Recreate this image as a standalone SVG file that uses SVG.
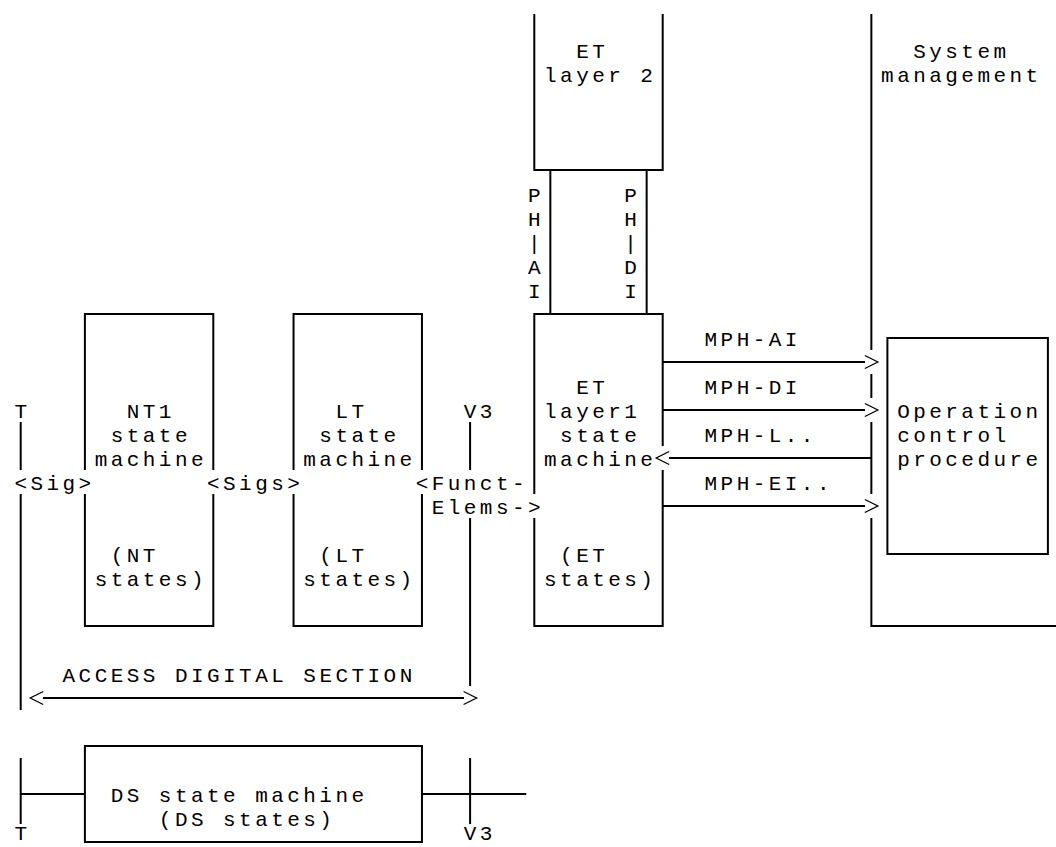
<svg xmlns="http://www.w3.org/2000/svg" width="1056" height="847" viewBox="0 0 1056 847">
<style>
  .ln{fill:none;stroke:#000;stroke-width:2;stroke-linecap:butt}
  .ah{fill:none;stroke:#000;stroke-width:1.3;stroke-linejoin:miter}
  text{font-family:"Liberation Mono","DejaVu Sans Mono",monospace;font-size:21px;letter-spacing:3.45px;fill:#000}
</style>
<rect width="1056" height="847" fill="#fff"/>

<g id="et-layer2">
  <path class="ln" d="M534.3,14 V170 H662.7 V14"/>
  <text x="576.15" y="57.5">ET</text>
  <text x="544.05" y="81.5">layer 2</text>
</g>

<g id="system-management">
  <path class="ln" d="M871.35,14 V350 M871.35,374 V398 M871.35,422 V494 M871.35,518 V626 H1056"/>
  <text x="913.2" y="57.5">System</text>
  <text x="881.1" y="81.5">management</text>
</g>

<g id="nt1">
  <path class="ln" d="M84.9,470 V314 H213.3 V470 M213.3,494 V626 H84.9 V494"/>
  <text x="126.75" y="417.5">NT1</text>
  <text x="110.7" y="441.5">state</text>
  <text x="94.65" y="465.5">machine</text>
  <text x="110.7" y="561.5">(NT</text>
  <text x="94.65" y="585.5">states)</text>
</g>

<g id="lt">
  <path class="ln" d="M293.55,470 V314 H421.95 V470 M421.95,494 V626 H293.55 V494"/>
  <text x="335.4" y="417.5">LT</text>
  <text x="319.35" y="441.5">state</text>
  <text x="303.3" y="465.5">machine</text>
  <text x="319.35" y="561.5">(LT</text>
  <text x="303.3" y="585.5">states)</text>
</g>

<g id="et-layer1">
  <path class="ln" d="M534.3,494 V314 H662.7 V446 M662.7,470 V626 H534.3 V518"/>
  <text x="576.15" y="393.5">ET</text>
  <text x="544.05" y="417.5">layer1</text>
  <text x="560.1" y="441.5">state</text>
  <text x="544.05" y="465.5">machine</text>
  <text x="560.1" y="561.5">(ET</text>
  <text x="544.05" y="585.5">states)</text>
</g>

<g id="operation-control">
  <rect class="ln" x="887.4" y="338" width="160.5" height="216"/>
  <text x="897.15" y="417.5">Operation</text>
  <text x="897.15" y="441.5">control</text>
  <text x="897.15" y="465.5">procedure</text>
</g>

<g id="t-ref">
  <path class="ln" d="M20.7,422 V470 M20.7,494 V710"/>
  <text x="14.4" y="417.5">T</text>
</g>

<g id="v3-ref">
  <path class="ln" d="M470.1,422 V470 M470.1,518 V686"/>
  <text x="463.8" y="417.5">V3</text>
</g>

<g id="ds">
  <rect class="ln" x="84.9" y="746" width="337.05" height="96"/>
  <text x="110.7" y="801.5">DS state machine</text>
  <text x="158.85" y="825.5">(DS states)</text>
</g>

<g id="t-ref-ds">
  <path class="ln" d="M20.7,758 V824"/>
  <text x="14.4" y="840">T</text>
</g>

<g id="v3-ref-ds">
  <path class="ln" d="M470.1,758 V824"/>
  <text x="463.8" y="840">V3</text>
</g>

<g id="connectors">
  <path class="ln" d="M550.35,170 V314 M646.65,170 V314"/>
  <g>
    <text x="528" y="201.5">P</text><text x="528" y="225.5">H</text><text x="528" y="249.5">|</text><text x="528" y="273.5">A</text><text x="528" y="297.5">I</text>
    <text x="624.3" y="201.5">P</text><text x="624.3" y="225.5">H</text><text x="624.3" y="249.5">|</text><text x="624.3" y="273.5">D</text><text x="624.3" y="297.5">I</text>
  </g>
  <text x="14.4" y="489.5">&lt;Sig&gt;</text>
  <text x="207" y="489.5">&lt;Sigs&gt;</text>
  <text x="415.65" y="489.5">&lt;Funct-</text>
  <text x="431.7" y="513.5">Elems-&gt;</text>
  <path class="ln" d="M662.7,362 H865 M662.7,410 H865 M662.7,506 H865 M871.35,458 H669"/>
  <path class="ah" d="M864.85,355.5 L877.85,362 L864.85,368.5 M864.85,403.5 L877.85,410 L864.85,416.5 M864.85,499.5 L877.85,506 L864.85,512.5 M669.2,451.5 L656.2,458 L669.2,464.5"/>
  <text x="704.55" y="345.5">MPH-AI</text>
  <text x="704.55" y="393.5">MPH-DI</text>
  <text x="704.55" y="441.5">MPH-L..</text>
  <text x="704.55" y="489.5">MPH-EI..</text>
  <path class="ln" d="M43,698 H464"/>
  <path class="ah" d="M43.25,691.5 L30.25,698 L43.25,704.5 M463.6,691.5 L476.6,698 L463.6,704.5"/>
  <text x="62.55" y="681.5">ACCESS DIGITAL SECTION</text>
  <path class="ln" d="M20.7,794 H84.9 M421.95,794 H526.3"/>
</g>
</svg>
